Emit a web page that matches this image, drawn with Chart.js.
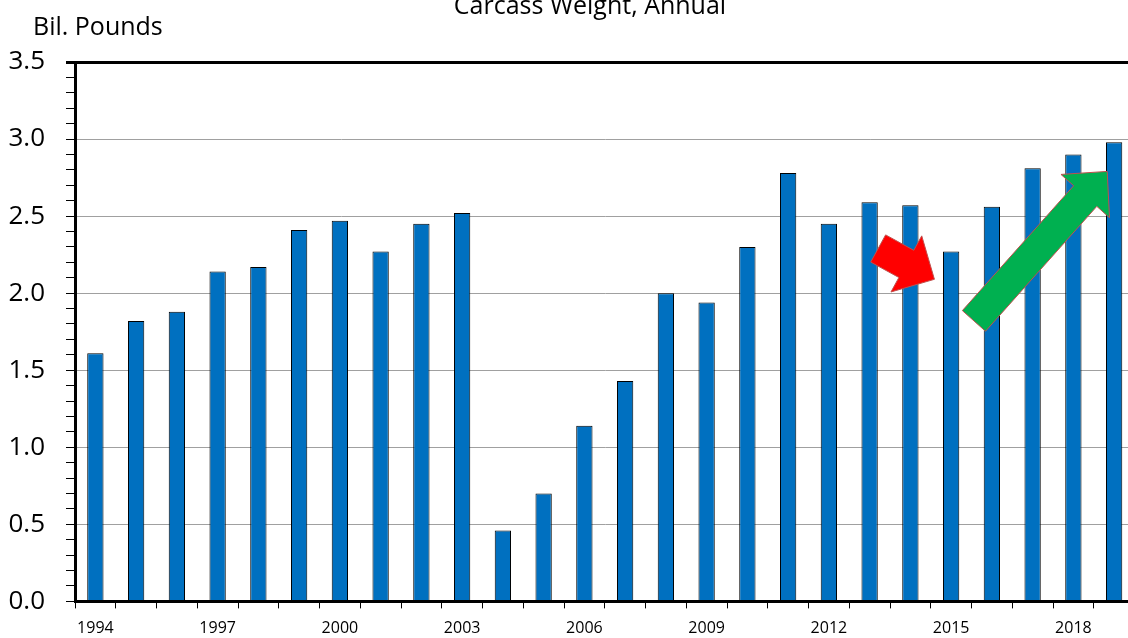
<!DOCTYPE html>
<html>
<head>
<meta charset="utf-8">
<title>Carcass Weight, Annual</title>
<script src="https://cdn.jsdelivr.net/npm/chart.js@4/dist/chart.umd.min.js"></script>
<style>
  html, body { margin: 0; padding: 0; overflow: hidden; background: #fff; }
</style>
</head>
<body>
<canvas id="myChart" width="1180" height="638"></canvas>
<script>
// data
var years = ['1994', '1995', '1996', '1997', '1998', '1999', '2000', '2001', '2002', '2003',
             '2004', '2005', '2006', '2007', '2008', '2009', '2010', '2011', '2012', '2013',
             '2014', '2015', '2016', '2017', '2018', '2019'];
var weights = [1.61, 1.82, 1.88, 2.14, 2.17, 2.41, 2.47, 2.27, 2.45, 2.52,
               0.46, 0.70, 1.14, 1.43, 2.00, 1.94, 2.30, 2.78, 2.45, 2.59,
               2.57, 2.27, 2.56, 2.81, 2.90, 2.98];
var xTickLabels = ['1994', '1997', '2000', '2003', '2006', '2009', '2012', '2015', '2018'];
var yMajorTicks = [0, 0.5, 1.0, 1.5, 2.0, 2.5, 3.0, 3.5];

var chartTitle = 'Carcass Weight, Annual';
var unitLabel = 'Bil. Pounds';

Chart.defaults.font.family = "'Open Sans', sans-serif";
Chart.defaults.color = '#000';

function isMajor(v) {
    return yMajorTicks.indexOf(Math.round(v * 10) / 10) !== -1;
}

// block arrow, ends given in pixels
function blockArrow(ctx, x0, y0, x1, y1, shaftW, headW, headL, fill) {
    var dx = x1 - x0, dy = y1 - y0;
    var len = Math.sqrt(dx * dx + dy * dy);
    var ux = dx / len, uy = dy / len;
    var nx = -uy, ny = ux;
    var bx = x1 - ux * headL, by = y1 - uy * headL;
    var pts = [
        [x0 + nx * shaftW / 2, y0 + ny * shaftW / 2],
        [bx + nx * shaftW / 2, by + ny * shaftW / 2],
        [bx + nx * headW / 2, by + ny * headW / 2],
        [x1, y1],
        [bx - nx * headW / 2, by - ny * headW / 2],
        [bx - nx * shaftW / 2, by - ny * shaftW / 2],
        [x0 - nx * shaftW / 2, y0 - ny * shaftW / 2]
    ];
    ctx.beginPath();
    ctx.moveTo(pts[0][0], pts[0][1]);
    for (var i = 1; i < pts.length; i++) ctx.lineTo(pts[i][0], pts[i][1]);
    ctx.closePath();
    ctx.fillStyle = fill;
    ctx.fill();
    ctx.strokeStyle = '#C0504D';
    ctx.lineWidth = 1;
    ctx.stroke();
}

var extras = {
    id: 'extras',
    afterDraw: function(chart) {
        var ctx = chart.ctx;
        var xs = chart.scales.x, ys = chart.scales.y;
        ctx.save();
        // arrows, anchored to category index / value
        blockArrow(ctx, xs.getPixelForValue(19.21), ys.getPixelForValue(2.29),
                   xs.getPixelForValue(20.59), ys.getPixelForValue(2.09), 31, 64, 32, '#FF0000');
        blockArrow(ctx, xs.getPixelForValue(21.56), ys.getPixelForValue(1.82),
                   xs.getPixelForValue(24.83), ys.getPixelForValue(2.79), 31, 65, 33, '#00B050');
        // texts
        ctx.fillStyle = '#000';
        ctx.textBaseline = 'alphabetic';
        ctx.font = "25px 'Open Sans', sans-serif";
        ctx.textAlign = 'center';
        ctx.fillText(chartTitle, 590, 14);
        ctx.textAlign = 'left';
        ctx.fillText(unitLabel, 33, 35);
        ctx.restore();
    }
};

var ctx = document.getElementById('myChart').getContext('2d');
var chart = new Chart(ctx, {
    type: 'bar',
    data: {
        labels: years,
        datasets: [{
            data: weights,
            backgroundColor: '#0070C0',
            borderColor: '#000',
            borderWidth: 1,
            borderSkipped: false,
            barPercentage: 0.4,
            categoryPercentage: 1.0
        }]
    },
    options: {
        responsive: false,
        animation: false,
        layout: { padding: { left: 0, top: 62, right: 45.5, bottom: 0 } },
        plugins: {
            legend: { display: false },
            tooltip: { enabled: false }
        },
        scales: {
            x: {
                grid: {
                    offset: true,
                    drawOnChartArea: false,
                    drawTicks: true,
                    tickLength: 7,
                    tickColor: '#000'
                },
                border: { color: '#000', width: 3 },
                ticks: {
                    autoSkip: false,
                    maxRotation: 0,
                    padding: 10,
                    font: { size: 16 },
                    callback: function(value, index) {
                        return xTickLabels.indexOf(years[index]) !== -1 ? years[index] : '';
                    }
                },
                afterFit: function(s) { s.height = 34; }
            },
            y: {
                min: 0,
                max: 3.5,
                grid: {
                    color: function(c) {
                        if (Math.abs(c.tick.value - 3.5) < 1e-6) return '#000';
                        return isMajor(c.tick.value) ? '#A0A0A0' : 'rgba(0,0,0,0)';
                    },
                    lineWidth: function(c) {
                        return Math.abs(c.tick.value - 3.5) < 1e-6 ? 3 : 1;
                    },
                    tickColor: '#000',
                    tickLength: 9
                },
                border: { color: '#000', width: 3 },
                ticks: {
                    stepSize: 0.1,
                    autoSkip: false,
                    padding: 21,
                    font: { size: 26 },
                    callback: function(value) {
                        return isMajor(value) ? value.toFixed(1) : '';
                    }
                },
                afterFit: function(s) { s.width = 75; }
            }
        }
    },
    plugins: [extras]
});
</script>
</body>
</html>
